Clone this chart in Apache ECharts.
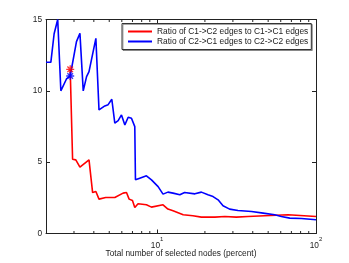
<!DOCTYPE html>
<html><head><meta charset="utf-8">
<script src="https://cdn.jsdelivr.net/npm/echarts@6/dist/echarts.min.js"></script>
<style>html,body{margin:0;padding:0;background:#fff}#c{width:349px;height:263px}</style>
</head><body><div id="c"></div>
<script>
const redName = 'Ratio of C1->C2 edges to C1->C1 edges';
const blueName = 'Ratio of C2->C1 edges to C2->C2 edges';
const xAxisTitle = 'Total number of selected nodes (percent)';
const xMin = 2, xMax = 100, yMin = 0, yMax = 15, yStep = 5;
const minorTicks = [3,4,5,6,7,8,9,20,30,40,50,60,70,80,90];

const redX = [2.84,2.94,3.08,3.27,3.73,3.93,4.12,4.31,4.75,5.42,6.11,6.42,6.67,7.0,7.24,7.59,8.57,9.22,10.9,11.7,12.6,12.9,14.6,16.8,19,23.1,26.7,31.5,37.3,47.5,66.7,100];
const redY = [11.51,5.21,5.16,4.65,5.16,2.87,2.94,2.41,2.52,2.52,2.83,2.87,2.41,2.31,1.82,2.08,2.01,1.85,2.01,1.71,1.59,1.54,1.31,1.24,1.15,1.15,1.19,1.15,1.19,1.24,1.31,1.19];

const blueX = [2.0,2.145,2.25,2.37,2.48,2.69,2.84,3.11,3.27,3.43,3.60,3.73,4.12,4.31,4.69,4.92,5.19,5.42,5.69,5.97,6.27,6.58,6.90,7.24,7.31,7.78,8.57,9.22,10.15,10.9,11.7,12.6,12.9,13.9,14.9,17.3,19.0,20.9,22.5,24.2,26.0,28.6,32.3,39.3,46.5,55,60.5,68.4,81,100];
const blueY = [12.0,12.0,14.0,15.0,10.0,10.83,11.04,13.45,14.03,10.0,11.0,11.35,13.68,8.66,8.94,9.03,9.41,7.73,7.91,8.31,7.61,8.15,8.08,7.49,3.76,3.88,4.04,3.76,3.29,2.76,2.9,2.83,2.94,2.71,2.87,2.78,2.9,2.71,2.59,2.36,1.94,1.71,1.61,1.54,1.43,1.31,1.19,1.08,1.05,0.96];

const redStar = [2.84, 11.51];
const blueStar = [2.84, 11.04];

const axisColor = '#222';
const fs = 8.3;
const star = 'path://M5,0 L5,10 M0,5 L10,5 M1.5,1.5 L8.5,8.5 M8.5,1.5 L1.5,8.5';

const chart = echarts.init(document.getElementById('c'), null, {renderer:'canvas'});
const xLabelFmt = v => {
  const e = Math.round(Math.log10(v));
  if (Math.abs(Math.log10(v) - e) < 1e-6 && (e === 1 || e === 2)) return '{b|10}{s|' + e + '}';
  return '';
};
chart.setOption({
  animation:false,
  backgroundColor:'#fff',
  grid:{left:46, right:33, top:19.5, bottom:29.5, containLabel:false, outerBoundsMode:'none'},
  xAxis:[{
    type:'log', logBase:10, min:xMin, max:xMax, position:'bottom',
    axisLine:{show:true, onZero:false, lineStyle:{color:axisColor, width:1}},
    axisTick:{show:true, inside:true, length:4, lineStyle:{color:axisColor}},
    splitLine:{show:false},
    axisLabel:{formatter:xLabelFmt, margin:3, color:axisColor,
      rich:{b:{fontSize:fs, verticalAlign:'bottom', lineHeight:13, color:axisColor, fontFamily:'Liberation Sans'},
            s:{fontSize:6, verticalAlign:'top', color:axisColor, fontFamily:'Liberation Sans'}}},
    name:xAxisTitle, nameLocation:'middle', nameGap:16, nameMoveOverlap:false,
    nameTextStyle:{fontSize:fs, color:axisColor, fontFamily:'Liberation Sans'}
  },{
    type:'log', logBase:10, min:xMin, max:xMax, position:'top',
    axisLine:{show:true, onZero:false, lineStyle:{color:axisColor, width:1}},
    axisTick:{show:true, inside:true, length:4, lineStyle:{color:axisColor}},
    splitLine:{show:false}, axisLabel:{show:false}
  }],
  yAxis:[{
    type:'value', min:yMin, max:yMax, interval:yStep, position:'left',
    axisLine:{show:true, onZero:false, lineStyle:{color:axisColor, width:1}},
    axisTick:{show:true, inside:true, length:4, lineStyle:{color:axisColor}},
    splitLine:{show:false},
    axisLabel:{fontSize:fs, color:axisColor, margin:4, fontFamily:'Liberation Sans'}
  },{
    type:'value', min:yMin, max:yMax, interval:yStep, position:'right',
    axisLine:{show:true, onZero:false, lineStyle:{color:axisColor, width:1}},
    axisTick:{show:true, inside:true, length:4, lineStyle:{color:axisColor}},
    splitLine:{show:false}, axisLabel:{show:false}
  }],
  legend:{
    data:[redName, blueName], orient:'vertical', left:122, top:23.5,
    padding:[3,3,3,6], itemGap:0, itemWidth:24, itemHeight:2, icon:'rect',
    textStyle:{fontSize:8.4, color:axisColor, lineHeight:10, fontFamily:'Liberation Sans'},
    backgroundColor:'#fff', borderColor:'#333', borderWidth:1,
    shadowColor:'rgba(0,0,0,0.35)', shadowOffsetX:1, shadowOffsetY:1, shadowBlur:0
  },
  series:[
    {name:redName, type:'line', data:redX.map((x,i)=>[x, redY[i]]), showSymbol:false,
     color:'#ff0000', lineStyle:{color:'#ff0000', width:1.6}, z:3},
    {name:blueName, type:'line', data:blueX.map((x,i)=>[x, blueY[i]]), showSymbol:false,
     color:'#0000ff', lineStyle:{color:'#0000ff', width:1.6}, z:4},
    {type:'scatter', data:[redStar], symbol:star, symbolSize:8,
     itemStyle:{color:'transparent', borderColor:'#ff0000', borderWidth:1.3}, z:5, silent:true},
    {type:'scatter', data:[blueStar], symbol:star, symbolSize:8,
     itemStyle:{color:'transparent', borderColor:'#0000ff', borderWidth:1.3}, z:5, silent:true},
    {type:'custom', data:minorTicks.map(v=>[v]), silent:true, z:2, clip:false,
     renderItem:(params, api)=>{
       const x = api.value(0);
       const b = api.coord([x, yMin]);
       const t = api.coord([x, yMax]);
       return {type:'group', children:[
         {type:'line', shape:{x1:b[0], y1:b[1], x2:b[0], y2:b[1]-2.5}, style:{stroke:axisColor, lineWidth:1}},
         {type:'line', shape:{x1:t[0], y1:t[1], x2:t[0], y2:t[1]+2.5}, style:{stroke:axisColor, lineWidth:1}}
       ]};
     }}
  ]
});
</script></body></html>
